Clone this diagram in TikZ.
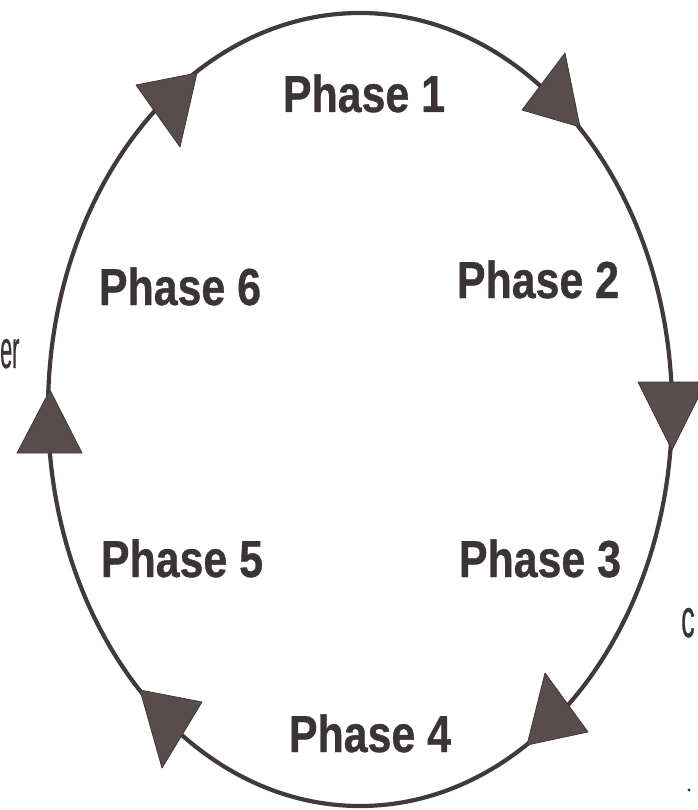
\documentclass[tikz,border=0pt]{standalone}
\usepackage{fontspec}
\usepackage{graphicx}
\setmainfont{Liberation Sans}
\newfontfamily\phasefont[FakeBold=0.8]{Liberation Sans Bold}
\newfontfamily\fragfont[FakeBold=0.6]{Liberation Sans}
\definecolor{ringcol}{RGB}{66,58,58}
\definecolor{tipcol}{RGB}{88,76,76}
\definecolor{txtcol}{RGB}{58,52,52}
\tikzset{
  ring/.style={draw=ringcol, line width=4.2pt},
  tiphead/.style={fill=tipcol, draw=ringcol, line width=0.8pt, line join=round},
  phaselbl/.style={anchor=base, inner sep=0pt, text=txtcol,
    font=\fontsize{52}{60}\selectfont\phasefont},
  frag/.style={inner sep=0pt, text=txtcol, font=\fontsize{54}{60}\selectfont\fragfont}
}
\newcommand{\cond}[1]{\scalebox{0.825}[1]{#1}}
\begin{document}
\begin{tikzpicture}[x=1pt,y=-1pt]
\useasboundingbox (0,0) rectangle (697,810);
% cycle
\draw[ring] (360,409.5) ellipse [x radius=312, y radius=396.5];
% arrowheads (clockwise)
\fill[tiphead] (197,73) -- (136,85) -- (180,147) -- cycle;
\fill[tiphead] (580,127) -- (565,53) -- (522,110) -- cycle;
\fill[tiphead] (672,450) -- (638,382) -- (706,382) -- cycle;
\fill[tiphead] (527,745) -- (545,673) -- (588,732) -- cycle;
\fill[tiphead] (140,690) -- (202,702) -- (162,768) -- cycle;
\fill[tiphead] (50,390) -- (17,453) -- (82,453) -- cycle;
% phase labels
\node[phaselbl] (p1) at (364,112) {\cond{Phase 1}};
\node[phaselbl] (p2) at (538,298) {\cond{Phase 2}};
\node[phaselbl] (p3) at (540,577) {\cond{Phase 3}};
\node[phaselbl] (p4) at (370,752) {\cond{Phase 4}};
\node[phaselbl] (p5) at (182,577) {\cond{Phase 5}};
\node[phaselbl] (p6) at (180,305) {\cond{Phase 6}};
% fragments of words at the page edges
\node[frag, anchor=base west] (fragl) at (0,368) {\scalebox{0.40}[1]{er}};
\node[frag, anchor=base west] (fragr) at (681,637) {\scalebox{0.50}[1]{c}};
\fill[txtcol] (689,790) circle [radius=1.6];
\end{tikzpicture}
\end{document}
